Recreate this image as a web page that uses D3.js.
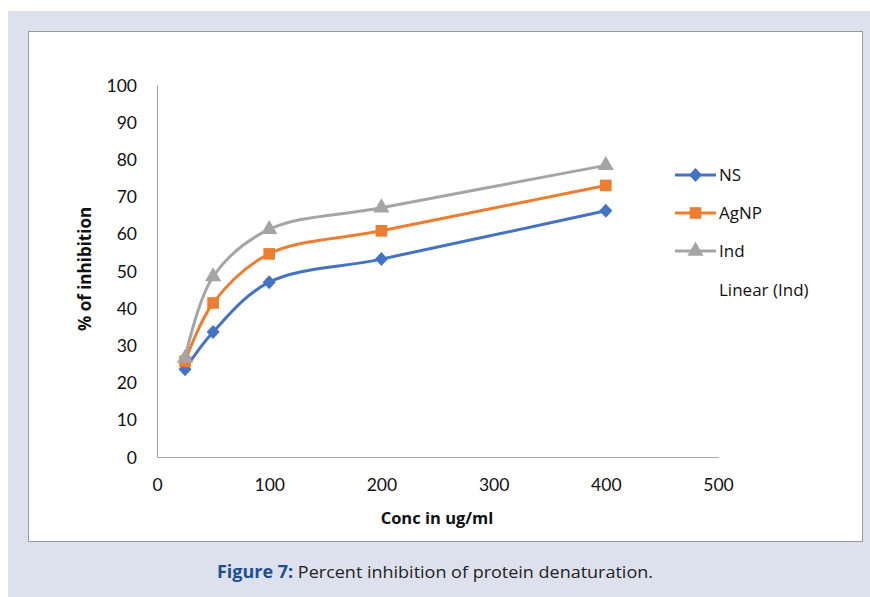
<!DOCTYPE html>
<html><head><meta charset="utf-8">
<script src="https://cdn.jsdelivr.net/npm/d3@7/dist/d3.min.js"></script>
<style>body{margin:0;background:#fff;}svg{display:block;}</style>
</head><body>
<svg id="c" width="870" height="597"></svg>
<script>
const concentrations = [25, 50, 100, 200, 400];
const nsValues = [23.6, 33.6, 47.0, 53.2, 66.2];
const agnpValues = [25.7, 41.4, 54.6, 60.8, 73.0];
const indValues = [26.6, 48.5, 61.2, 67.0, 78.4];
const seriesNames = ["NS", "AgNP", "Ind"];
const xTicks = [0, 100, 200, 300, 400, 500];
const yTicks = [0, 10, 20, 30, 40, 50, 60, 70, 80, 90, 100];

const colors = {NS: "#4472C4", AgNP: "#ED7D31", Ind: "#A5A5A5"};
const series = [
  {name: "NS", values: nsValues, shape: "diamond"},
  {name: "AgNP", values: agnpValues, shape: "square"},
  {name: "Ind", values: indValues, shape: "triangle"}
];

const svg = d3.select("#c");
svg.append("rect").attr("x", 8).attr("y", 11).attr("width", 862).attr("height", 586).attr("fill", "#dde1ee");
svg.append("rect").attr("x", 28.5).attr("y", 31.5).attr("width", 834).attr("height", 510).attr("fill", "#fff").attr("stroke", "#9a9a9a").attr("stroke-width", 1);

const x = d3.scaleLinear().domain([0, 500]).range([157, 718]);
const y = d3.scaleLinear().domain([0, 100]).range([457, 85]);
const font = "Lato, 'Open Sans', sans-serif";
const font2 = "'Open Sans', sans-serif";

const xAxis = svg.append("g").attr("transform", `translate(0,${y(0)})`)
  .call(d3.axisBottom(x).tickValues(xTicks).tickSize(0).tickPadding(22));
const yAxis = svg.append("g").attr("transform", `translate(${x(0)},0)`)
  .call(d3.axisLeft(y).tickValues(yTicks).tickSize(0).tickPadding(20));
[xAxis, yAxis].forEach(a => {
  a.select(".domain").attr("stroke", "#a6a6a6").attr("stroke-width", 1.2);
  a.selectAll("text").attr("font-family", font).attr("font-size", 17.5).attr("fill", "#111");
});
yAxis.selectAll("text").attr("dy", "0.35em");
xAxis.selectAll("text").attr("dy", "0.71em");

svg.append("text").attr("x", 437).attr("y", 524).attr("text-anchor", "middle")
  .attr("font-family", font2).attr("font-weight", "bold").attr("font-size", 16.5).attr("fill", "#111")
  .text("Conc in ug/ml");
svg.append("text").attr("transform", `translate(91,${y(50) - 2}) rotate(-90)`).attr("text-anchor", "middle")
  .attr("font-family", font2).attr("font-weight", "bold").attr("font-size", 17).attr("fill", "#111")
  .text("% of inhibition");

const diamondPath = "M0,-7L6.5,0L0,7L-6.5,0Z";
const symbolFor = s => s === "diamond" ? diamondPath
  : s === "square" ? d3.symbol().type(d3.symbolSquare).size(135)()
  : d3.symbol().type(d3.symbolTriangle).size(115)();

const line = d3.line().x((d, i) => x(concentrations[i])).y(d => y(d)).curve(d3.curveCatmullRom.alpha(0.5));

series.forEach(s => {
  svg.append("path").datum(s.values).attr("d", line).attr("fill", "none")
    .attr("stroke", colors[s.name]).attr("stroke-width", 3).attr("stroke-linecap", "round");
  svg.selectAll(null).data(s.values).enter().append("path")
    .attr("d", symbolFor(s.shape))
    .attr("transform", (d, i) => `translate(${x(concentrations[i])},${y(d)})`)
    .attr("fill", colors[s.name]);
});

const legendY = [175, 213, 251];
series.forEach((s, i) => {
  const g = svg.append("g");
  g.append("line").attr("x1", 675).attr("x2", 716).attr("y1", legendY[i]).attr("y2", legendY[i])
    .attr("stroke", colors[s.name]).attr("stroke-width", 3);
  g.append("path").attr("d", symbolFor(s.shape)).attr("transform", `translate(695.5,${legendY[i]})`).attr("fill", colors[s.name]);
  g.append("text").attr("x", 719).attr("y", legendY[i]).attr("dy", "0.35em")
    .attr("font-family", font2).attr("font-size", 17).attr("fill", "#111").text(s.name);
});
svg.append("text").attr("x", 719).attr("y", 290).attr("dy", "0.35em")
  .attr("font-family", font2).attr("font-size", 17).attr("fill", "#111").text("Linear (Ind)");

const cap = svg.append("text").attr("x", 435).attr("y", 578).attr("text-anchor", "middle")
  .attr("font-family", "'Open Sans', sans-serif").attr("font-size", 17).attr("fill", "#222")
  .attr("textLength", 436).attr("lengthAdjust", "spacingAndGlyphs");
cap.append("tspan").attr("font-weight", "bold").attr("fill", "#1d4f91").text("Figure 7:");
cap.append("tspan").text(" Percent inhibition of protein denaturation.");
</script>
</body></html>
